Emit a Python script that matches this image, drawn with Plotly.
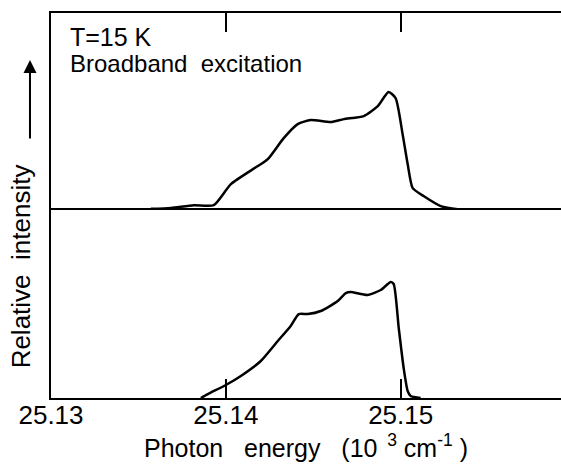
import plotly.graph_objects as go
from plotly.subplots import make_subplots

# Photon energy (10^3 cm^-1) and relative intensity, top spectrum
energy_top = [25.13571, 25.13686, 25.13817, 25.13931, 25.14029, 25.14183, 25.14240,
              25.14331, 25.14411, 25.14486, 25.14600, 25.14674, 25.14789, 25.14869,
              25.14931, 25.14971, 25.15011, 25.15040, 25.15069, 25.15131, 25.15229,
              25.15326, 25.15400]
intensity_top = [0.011, 0.019, 0.042, 0.042, 0.22, 0.373, 0.432,
                 0.61, 0.729, 0.763, 0.746, 0.771, 0.797, 0.881,
                 1.0, 0.949, 0.644, 0.39, 0.186, 0.119, 0.034,
                 0.008, 0.004]

# bottom spectrum
energy_bot = [25.13857, 25.13897, 25.14000, 25.14086, 25.14200, 25.14297, 25.14371,
              25.14417, 25.14469, 25.14543, 25.14640, 25.14686, 25.14714, 25.14811,
              25.14886, 25.14943, 25.14960, 25.14989, 25.15017, 25.15040, 25.15057,
              25.15114]
intensity_bot = [0.0, 0.034, 0.112, 0.19, 0.319, 0.491, 0.621,
                 0.724, 0.724, 0.75, 0.836, 0.905, 0.914, 0.888,
                 0.931, 1.0, 0.983, 0.603, 0.259, 0.06, 0.017,
                 0.0]

tick_vals = [25.13, 25.14, 25.15]
tick_text = ["25.13", "25.14", "25.15"]

FONT = "Liberation Sans, Arial, sans-serif"

fig = make_subplots(rows=2, cols=1, shared_xaxes=True, vertical_spacing=0,
                    row_heights=[0.512, 0.488])

fig.add_trace(go.Scatter(x=energy_top, y=intensity_top, mode="lines",
                         line=dict(color="black", width=2.5, shape="spline", smoothing=0.6),
                         showlegend=False), row=1, col=1)
fig.add_trace(go.Scatter(x=energy_bot, y=intensity_bot, mode="lines",
                         line=dict(color="black", width=2.5, shape="spline", smoothing=0.6),
                         showlegend=False), row=2, col=1)

xrange = [25.13, 25.15917]

fig.update_layout(
    width=561, height=468,
    margin=dict(l=51, r=0, t=13, b=70),
    paper_bgcolor="white", plot_bgcolor="white",
    font=dict(family=FONT, color="black", size=25),
    xaxis=dict(range=xrange, side="top", showline=True, linecolor="black", linewidth=2,
               ticks="inside", ticklen=19, tickwidth=2, tickcolor="black",
               tickvals=tick_vals, showticklabels=False, showgrid=False, zeroline=False),
    xaxis2=dict(range=xrange, showline=True, linecolor="black", linewidth=2, mirror=True,
                ticks="inside", ticklen=19, tickwidth=2, tickcolor="black",
                tickvals=tick_vals, ticktext=tick_text, showgrid=False, zeroline=False,
                ticklabelstandoff=-7,
                tickfont=dict(size=26, family=FONT),
                title=dict(text="Photon\u00a0\u00a0\u00a0energy\u00a0\u00a0\u00a0(10<sup>\u00a0\u00a03</sup>\u00a0cm<sup>-1</sup>\u00a0)",
                           font=dict(size=25, family=FONT), standoff=2)),
    yaxis=dict(range=[0, 1.67], showline=True, linecolor="black", linewidth=2,
               ticks="", showticklabels=False, showgrid=False, zeroline=False),
    yaxis2=dict(range=[0, 1.62], showline=True, linecolor="black", linewidth=2,
                ticks="", showticklabels=False, showgrid=False, zeroline=False),
)

fig.add_annotation(text="T=15\u00a0K", xref="paper", yref="paper", x=0.033, y=0.938,
                   xanchor="left", yanchor="middle", showarrow=False,
                   font=dict(size=25, family=FONT))
fig.add_annotation(text="Broadband\u00a0\u00a0excitation", xref="paper", yref="paper",
                   x=0.033, y=0.870, xanchor="left", yanchor="middle", showarrow=False,
                   font=dict(size=24, family=FONT))
fig.add_annotation(text="Relative\u00a0\u00a0intensity", xref="paper", yref="paper",
                   x=-0.058, y=0.343, textangle=-90, xanchor="center", yanchor="middle",
                   showarrow=False, font=dict(size=26, family=FONT))
fig.add_annotation(text="", xref="paper", yref="paper", x=-0.0412, y=0.878,
                   showarrow=True, ax=0, ay=80, arrowhead=2, arrowsize=1.3,
                   arrowwidth=2, arrowcolor="black")

fig.write_html("out.html")
